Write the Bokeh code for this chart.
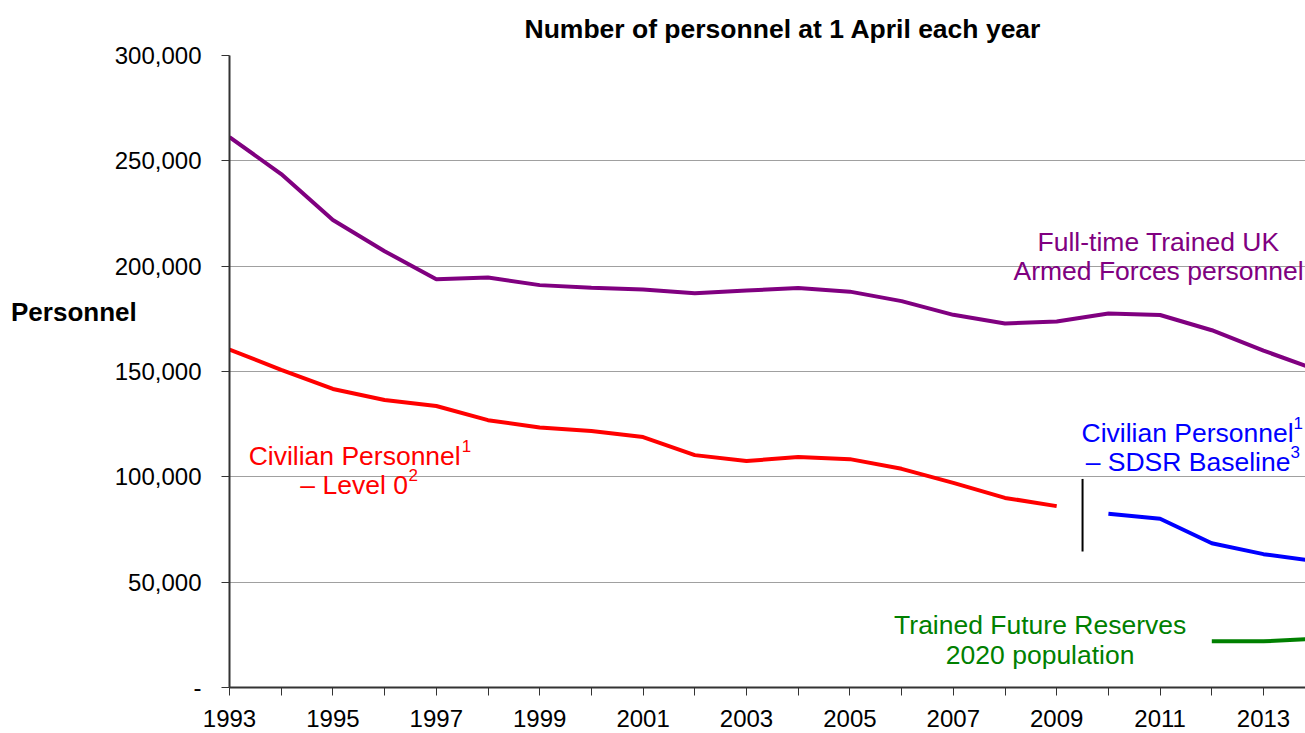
from bokeh.plotting import figure
from bokeh.models import Range1d, FixedTicker, NumeralTickFormatter, Label
from bokeh.embed import file_html
from bokeh.resources import INLINE

# ---- data ----
armed_years = list(range(1993, 2015))
armed_forces = [261300, 243700, 221900, 207100, 193800, 194600, 191000, 189800,
                188900, 187100, 188400, 189600, 187900, 183400, 176900, 172800,
                173700, 177500, 176800, 169600, 159900, 151000]

civ_l0_years = list(range(1993, 2010))
civ_level0 = [160400, 150800, 141700, 136500, 133600, 126900, 123400, 121800,
              118900, 110300, 107500, 109400, 108400, 103800, 97100, 90000, 86100]

civ_sdsr_years = list(range(2010, 2015))
civ_sdsr = [82500, 80100, 68500, 63300, 60000]

reserve_years = [2012, 2013, 2014]
reserves = [21900, 21900, 23100]

divider_x = [2009.5]
divider_top = [99000]
divider_bottom = [64500]

y_ticks = [0, 50000, 100000, 150000, 200000, 250000, 300000]
x_ticks = list(range(1993, 2015))

FONT = "Liberation Sans"
PX_PER_YEAR = 51.7
frame_w = 1076

p = figure(width=1305, height=733, output_backend="svg", toolbar_location=None,
           x_range=Range1d(1993, 1993 + frame_w / PX_PER_YEAR),
           y_range=Range1d(0, 300000),
           min_border_left=229, min_border_right=0, min_border_top=54, min_border_bottom=46)
p.outline_line_color = None
p.background_fill_color = "white"
p.border_fill_color = "white"

# title
p.title.text = "Number of personnel at 1 April each year"
p.title.align = "left"
p.title.offset = 295
p.title.text_font = FONT
p.title.text_font_size = "26.5px"
p.title.text_font_style = "bold"
p.title.text_color = "black"
p.title.standoff = 23

# grid
p.xgrid.grid_line_color = None
p.ygrid.grid_line_color = "#a0a0a0"
p.ygrid.grid_line_width = 1

# y axis
p.yaxis.ticker = FixedTicker(ticks=y_ticks)
p.yaxis.formatter = NumeralTickFormatter(format="0,0")
p.yaxis.major_label_overrides = {0: "-"}
p.yaxis.major_label_text_font = FONT
p.yaxis.major_label_text_font_size = "24px"
p.yaxis.major_label_text_color = "black"
p.yaxis.major_tick_in = 0
p.yaxis.major_tick_out = 8
p.yaxis.minor_tick_line_color = None
p.yaxis.axis_line_color = "#333333"
p.yaxis.axis_line_width = 2
p.yaxis.major_tick_line_color = "#333333"
p.yaxis.major_label_standoff = 20
# caption: horizontal, raised above the frame centre by blank lines below it
p.yaxis.axis_label = "Personnel\n\n\n\n"
p.yaxis.axis_label_orientation = "horizontal"
p.yaxis.axis_label_text_font = FONT
p.yaxis.axis_label_text_font_size = "26px"
p.yaxis.axis_label_text_font_style = "bold"
p.yaxis.axis_label_text_color = "black"
p.yaxis.axis_label_text_line_height = 0.99
p.yaxis.axis_label_standoff = -25

# x axis
p.xaxis.ticker = FixedTicker(ticks=x_ticks)
p.xaxis.major_label_overrides = {y: ("" if (y - 1993) % 2 else str(y)) for y in x_ticks}
p.xaxis.major_label_text_font = FONT
p.xaxis.major_label_text_font_size = "24px"
p.xaxis.major_label_text_color = "black"
p.xaxis.major_tick_in = 0
p.xaxis.major_tick_out = 8
p.xaxis.minor_tick_line_color = None
p.xaxis.axis_line_color = "#333333"
p.xaxis.axis_line_width = 2
p.xaxis.major_tick_line_color = "#333333"
p.xaxis.major_label_standoff = 14

# series
p.line(armed_years, armed_forces, line_color="#800080", line_width=4)
p.line(civ_l0_years, civ_level0, line_color="#FF0000", line_width=4)
p.line(civ_sdsr_years, civ_sdsr, line_color="#0000FF", line_width=4)
p.line(reserve_years, reserves, line_color="#008000", line_width=4)
p.segment(x0=divider_x, y0=divider_top, x1=divider_x, y1=divider_bottom,
          line_color="black", line_width=2)

def lab(x, y, text, color, size="26.5px", align="center", style="normal"):
    p.add_layout(Label(x=x, y=y, text=text, text_align=align, text_baseline="middle",
                       text_font=FONT, text_font_size=size, text_color=color,
                       text_font_style=style))

lab(2010.97, 211400, "Full-time Trained UK", "#800080")
lab(2010.97, 197600, "Armed Forces personnel", "#800080")

lab(1993.37, 110000, "Civilian Personnel", "#FF0000", align="left")
lab(1997.49, 114700, "1", "#FF0000", size="17px", align="left")
lab(1994.37, 96200, "\u2013 Level 0", "#FF0000", align="left")
lab(1996.46, 100950, "2", "#FF0000", size="17px", align="left")

lab(2009.48, 120850, "Civilian Personnel", "#0000FF", align="left")
lab(2013.58, 125600, "1", "#0000FF", size="17px", align="left")
lab(2009.56, 107100, "\u2013 SDSR Baseline", "#0000FF", align="left")
lab(2013.52, 111850, "3", "#0000FF", size="17px", align="left")

lab(2008.68, 29900, "Trained Future Reserves", "#008000")
lab(2008.68, 15200, "2020 population", "#008000")

open("out.html", "w").write(file_html(p, INLINE))
